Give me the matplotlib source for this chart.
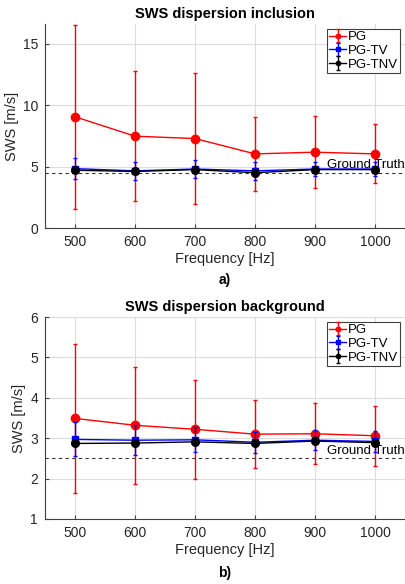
import matplotlib
matplotlib.use("Agg")
import matplotlib.pyplot as plt

plt.rcParams["font.family"] = ["Liberation Sans", "DejaVu Sans"]

freq = [500, 600, 700, 800, 900, 1000]

# inclusion
inc_pg = [9.05, 7.47, 7.28, 6.03, 6.17, 6.03]
inc_pg_err = [7.5, 5.3, 5.35, 3.0, 2.95, 2.4]
inc_tv = [4.83, 4.65, 4.8, 4.65, 4.8, 4.8]
inc_tv_err = [0.83, 0.75, 0.7, 0.75, 0.6, 0.55]
inc_tnv = [4.7, 4.6, 4.75, 4.5, 4.75, 4.75]
inc_tnv_err = [0.15, 0.15, 0.15, 0.15, 0.15, 0.15]
inc_truth = 4.5

# background
bg_pg = [3.49, 3.32, 3.22, 3.1, 3.11, 3.06]
bg_pg_err = [1.85, 1.45, 1.22, 0.84, 0.75, 0.74]
bg_tv = [2.97, 2.95, 2.96, 2.9, 2.95, 2.92]
bg_tv_err = [0.42, 0.37, 0.31, 0.26, 0.25, 0.25]
bg_tnv = [2.87, 2.88, 2.91, 2.87, 2.93, 2.89]
bg_tnv_err = [0.05, 0.05, 0.05, 0.05, 0.05, 0.05]
bg_truth = 2.5

fig = plt.figure(figsize=(4.06, 5.84), dpi=100)
ax1 = fig.add_axes([45/406, 1-228/584, 360/406, 204/584])
ax2 = fig.add_axes([45/406, 1-519/584, 360/406, 202/584])


def draw(ax, pg, pge, tv, tve, tnv, tnve, truth, ylim, yticks, title):
    ax.errorbar(freq, pg, yerr=pge, color="red", marker="o", markersize=6,
                lw=1, elinewidth=1, capsize=1.5, label="PG", zorder=3)
    ax.errorbar(freq, tv, yerr=tve, color="blue", marker="s", markersize=4.5,
                lw=1, elinewidth=1, capsize=1.5, label="PG-TV", zorder=4)
    ax.errorbar(freq, tnv, yerr=tnve, color="black", marker="o", markersize=5.5,
                lw=1, elinewidth=1, capsize=1.5, label="PG-TNV", zorder=5)
    ax.axhline(truth, color="black", ls=(0, (3, 3)), lw=0.8, alpha=0.8, zorder=2)
    ax.text(1049, truth + (ylim[1] - ylim[0]) * 0.008, "Ground Truth",
            ha="right", va="bottom", fontsize=9.5)
    ax.set_xlim(450, 1050)
    ax.set_ylim(*ylim)
    ax.set_xticks(freq)
    ax.set_yticks(yticks)
    ax.grid(True, color="#dddddd", lw=0.8)
    ax.set_axisbelow(True)
    for s in ["top", "right"]:
        ax.spines[s].set_visible(False)
    for s in ["left", "bottom"]:
        ax.spines[s].set_color("#404040")
    ax.tick_params(labelsize=10, colors="#404040", length=3, direction="in", pad=5)
    for lab in ax.get_xticklabels() + ax.get_yticklabels():
        lab.set_color("#262626")
    ax.set_xlabel("Frequency [Hz]", fontsize=10.5, color="#262626", labelpad=2)
    ax.set_ylabel("SWS [m/s]", fontsize=10.5, color="#262626", labelpad=3)
    ax.set_title(title, fontsize=10.5, fontweight="bold", pad=4)
    leg = ax.legend(loc="upper right", fontsize=9.5, frameon=True, fancybox=False,
                    handlelength=1.3, handletextpad=0.1, borderpad=0.2,
                    labelspacing=0.1, borderaxespad=0.35, markerscale=0.55,
                    framealpha=1)
    leg.get_frame().set_edgecolor("#404040")
    leg.get_frame().set_linewidth(0.8)


draw(ax1, inc_pg, inc_pg_err, inc_tv, inc_tv_err, inc_tnv, inc_tnv_err,
     inc_truth, (0, 16.6), [0, 5, 10, 15], "SWS dispersion inclusion")
draw(ax2, bg_pg, bg_pg_err, bg_tv, bg_tv_err, bg_tnv, bg_tnv_err,
     bg_truth, (1, 6), [1, 2, 3, 4, 5, 6], "SWS dispersion background")

fig.text(225/406, 1-280/584, "a)", ha="center", va="center", fontsize=10, fontweight="bold")
fig.text(225/406, 1-573/584, "b)", ha="center", va="center", fontsize=10, fontweight="bold")

fig.savefig("out.png", dpi=100)
